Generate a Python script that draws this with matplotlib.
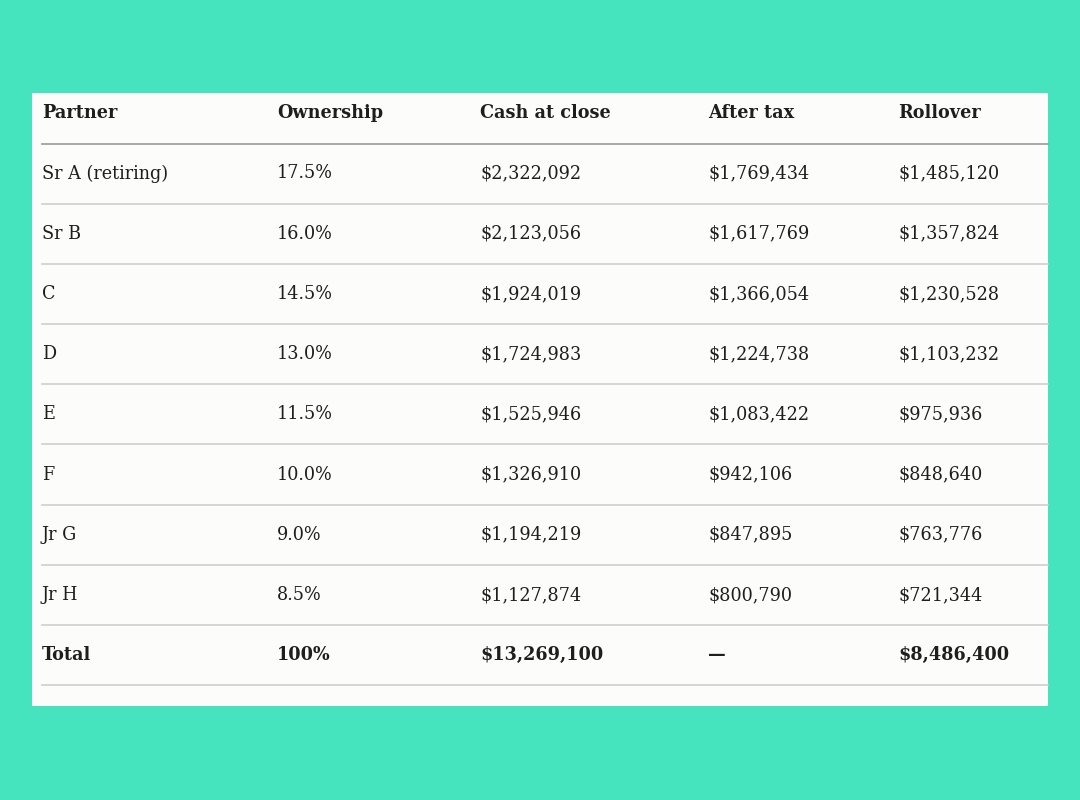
import matplotlib.pyplot as plt
from matplotlib.patches import Rectangle

# table contents
columns = ['Partner', 'Ownership', 'Cash at close', 'After tax', 'Rollover']
partners = ['Sr A (retiring)', 'Sr B', 'C', 'D', 'E', 'F', 'Jr G', 'Jr H']
ownership = ['17.5%', '16.0%', '14.5%', '13.0%', '11.5%', '10.0%', '9.0%', '8.5%']
cash_at_close = ['$2,322,092', '$2,123,056', '$1,924,019', '$1,724,983',
                 '$1,525,946', '$1,326,910', '$1,194,219', '$1,127,874']
after_tax = ['$1,769,434', '$1,617,769', '$1,366,054', '$1,224,738',
             '$1,083,422', '$942,106', '$847,895', '$800,790']
rollover = ['$1,485,120', '$1,357,824', '$1,230,528', '$1,103,232',
            '$975,936', '$848,640', '$763,776', '$721,344']
total_row = ['Total', '100%', '$13,269,100', '\u2014', '$8,486,400']

BG = '#46E3BF'
PANEL = '#FCFCFB'
TXT = '#1e1e1e'

fig = plt.figure(figsize=(10.8, 8), dpi=100, facecolor=BG)
ax = fig.add_axes([0, 0, 1, 1])
ax.set_xlim(0, 1080)
ax.set_ylim(800, 0)
ax.axis('off')

ax.add_patch(Rectangle((32, 93), 1016, 613, facecolor=PANEL, edgecolor='none'))

col_x = [42, 277, 480, 708, 898]
header_y = 113
row_h = 60.2
first_y = 173.5
font = 'DejaVu Serif'
fs = 12.7

for x, c in zip(col_x, columns):
    ax.text(x, header_y, c, fontsize=fs, fontweight='bold', family=font,
            color=TXT, va='center', ha='left')
ax.plot([42, 1048], [143.5, 143.5], color='#9a9a9a', lw=1.2)

rows = list(zip(partners, ownership, cash_at_close, after_tax, rollover))
rows.append(tuple(total_row))
for i, row in enumerate(rows):
    y = first_y + i * row_h
    bold = i == len(rows) - 1
    for x, v in zip(col_x, row):
        ax.text(x, y, v, fontsize=fs, family=font, color=TXT, va='center', ha='left',
                fontweight='bold' if bold else 'normal')
    ly = y + row_h / 2
    ax.plot([42, 1048], [ly, ly], color='#cfcfcf', lw=1.2)

fig.savefig('out.png', dpi=100, facecolor=BG)
